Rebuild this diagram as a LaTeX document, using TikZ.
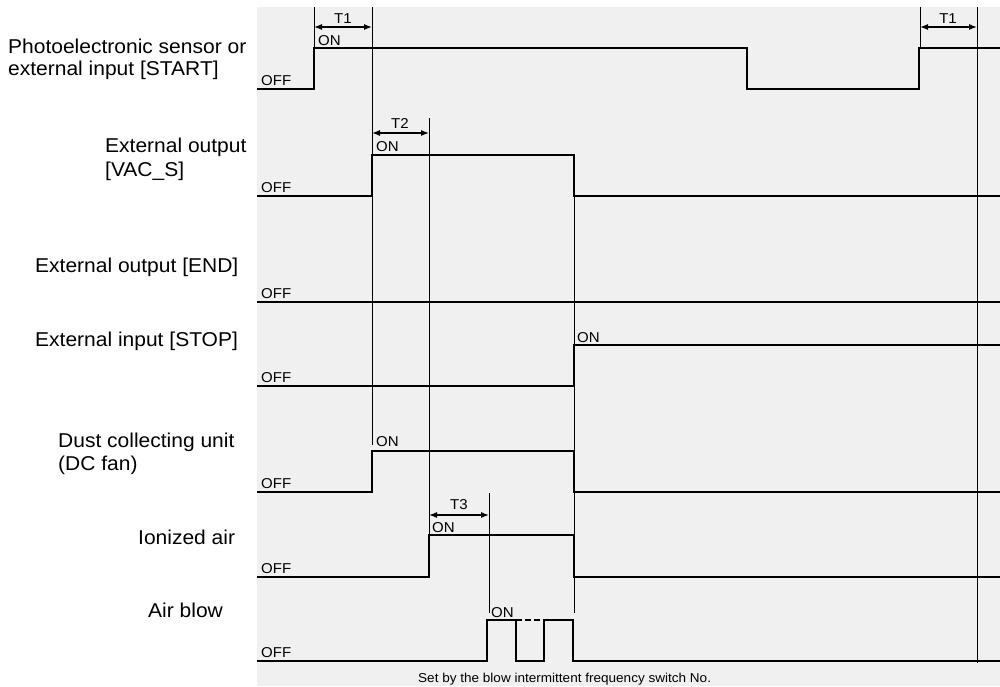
\documentclass[tikz,border=0pt]{standalone}
\usepackage{fontspec}
\setmainfont{Liberation Sans}[FakeStretch=1.05]
\usetikzlibrary{arrows.meta}
\definecolor{panelgray}{HTML}{F0F0F0}
\begin{document}
\begin{tikzpicture}[x=1pt,y=-1pt,
  sig/.style={line width=2.6pt, line join=miter},
  guide/.style={line width=1pt},
  dimarrow/.style={line width=1.2pt, {Latex[length=8pt,width=6pt]}-{Latex[length=8pt,width=6pt]}},
  lbl/.style={font=\fontsize{20}{24}\selectfont, anchor=base west, inner sep=0pt},
  st/.style={font=\fontsize{14.3}{16}\selectfont, anchor=base west, inner sep=0pt},
  tl/.style={font=\fontsize{14.3}{16}\selectfont, anchor=base, inner sep=0pt},
  note/.style={font=\fontsize{12.9}{15}\selectfont, anchor=base west, inner sep=0pt}]
\useasboundingbox (0,0) rectangle (1000,686);
\fill[panelgray] (257,7) rectangle (1000,686);

% left labels
\node[lbl] (l1a) at (8,53) {Photoelectronic sensor or};
\node[lbl] (l1b) at (8,75) {external input [START]};
\node[lbl] (l2a) at (105,152) {External output};
\node[lbl] (l2b) at (105,176) {[VAC\_S]};
\node[lbl] (l3) at (35,272) {External output [END]};
\node[lbl] (l4) at (35,346) {External input [STOP]};
\node[lbl] (l5a) at (58,447) {Dust collecting unit};
\node[lbl] (l5b) at (58,470) {(DC fan)};
\node[lbl] (l6) at (138,544) {Ionized air};
\node[lbl] (l7) at (148,617) {Air blow};

% signals
\draw[sig] (257,89) -- (314,89) -- (314,48) -- (747,48) -- (747,89) -- (919,89) -- (919,48) -- (1000,48);
\draw[sig] (257,196) -- (372,196) -- (372,155) -- (574,155) -- (574,196) -- (1000,196);
\draw[sig] (257,302) -- (1000,302);
\draw[sig] (257,386) -- (574,386) -- (574,345) -- (1000,345);
\draw[sig] (257,492) -- (372,492) -- (372,451) -- (574,451) -- (574,492) -- (1000,492);
\draw[sig] (257,577) -- (429,577) -- (429,535) -- (574,535) -- (574,577) -- (1000,577);
\draw[sig] (257,661) -- (487,661) -- (487,620) -- (516,620) -- (516,661) -- (544,661) -- (544,620) -- (573,620) -- (573,661) -- (1000,661);
\draw[sig, dash pattern=on 6pt off 3pt] (516,620) -- (544,620);

% guide lines
\coordinate (g1t) at (314,7);   \coordinate (g1b) at (314,48);
\coordinate (g2t) at (372,7);   \coordinate (g2b) at (372,445);
\coordinate (g3t) at (429,118); \coordinate (g3b) at (429,535);
\coordinate (g4t) at (574,155); \coordinate (g4b) at (574,613);
\coordinate (g5t) at (489,493); \coordinate (g5b) at (489,613);
\coordinate (g6t) at (920,7);   \coordinate (g6b) at (920,48);
\coordinate (g7t) at (977,7);   \coordinate (g7b) at (977,663);
\draw[guide] (g1t) -- (g1b);
\draw[guide] (g2t) -- (g2b);
\draw[guide] (g3t) -- (g3b);
\draw[guide] (g4t) -- (g4b);
\draw[guide] (g5t) -- (g5b);
\draw[guide] (g6t) -- (g6b);
\draw[guide] (g7t) -- (g7b);

% time intervals
\coordinate (t1a) at (314,27); \coordinate (t1b) at (372,27);
\coordinate (t2a) at (372,133); \coordinate (t2b) at (429,133);
\coordinate (t3a) at (429,515); \coordinate (t3b) at (489,515);
\coordinate (t4a) at (920,27); \coordinate (t4b) at (977,27);
\draw[dimarrow] (t1a) -- (t1b);
\draw[dimarrow] (t2a) -- (t2b);
\draw[dimarrow] (t3a) -- (t3b);
\draw[dimarrow] (t4a) -- (t4b);
\node[tl] (T1) at (343,23) {T1};
\node[tl] (T2) at (400,128) {T2};
\node[tl] (T3) at (459,509) {T3};
\node[tl] (T1r) at (948,23) {T1};

% ON labels
\node[st] (on1) at (318,45) {ON};
\node[st] (on2) at (376,151) {ON};
\node[st] (on4) at (577,342) {ON};
\node[st] (on5) at (376,446) {ON};
\node[st] (on6) at (432,532) {ON};
\node[st] (on7) at (491,617) {ON};

% OFF labels
\node[st] (off1) at (261,85) {OFF};
\node[st] (off2) at (261,192) {OFF};
\node[st] (off3) at (261,298) {OFF};
\node[st] (off4) at (261,382) {OFF};
\node[st] (off5) at (261,488) {OFF};
\node[st] (off6) at (261,573) {OFF};
\node[st] (off7) at (261,657) {OFF};

\node[note] (setby) at (418,682) {Set by the blow intermittent frequency switch No.};
\end{tikzpicture}
\end{document}
